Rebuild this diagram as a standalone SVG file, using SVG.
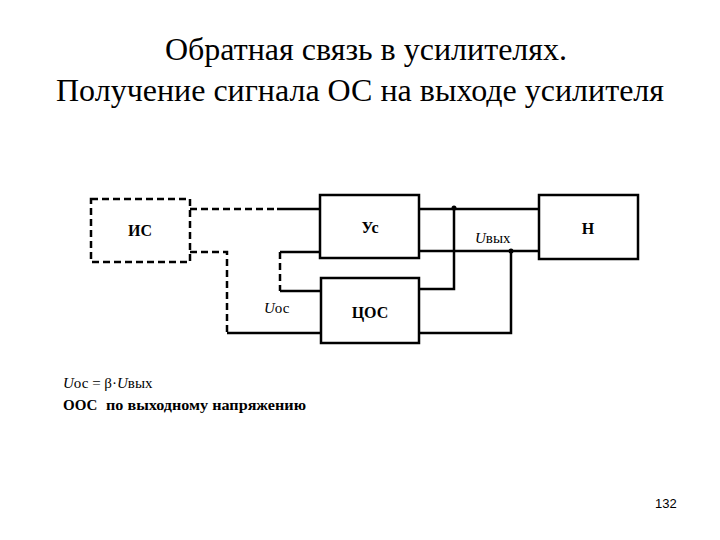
<svg xmlns="http://www.w3.org/2000/svg" width="720" height="540" viewBox="0 0 720 540">
<style>
.box{fill:none;stroke:#000;stroke-width:2.5}
.dbox{fill:none;stroke:#000;stroke-width:2.5;stroke-dasharray:7,4}
.w{fill:none;stroke:#000;stroke-width:2.5}
.dw{fill:none;stroke:#000;stroke-width:2.5;stroke-dasharray:7,4}
.lbl{font-family:"Liberation Serif","Times New Roman","DejaVu Serif",serif;font-size:16px;font-weight:bold;text-anchor:middle}
.sm{font-family:"Liberation Serif","Times New Roman","DejaVu Serif",serif;font-size:15px}
.title{font-family:"Liberation Serif","Times New Roman","DejaVu Serif",serif;font-size:32px;text-anchor:middle}
</style>
<rect width="720" height="540" fill="#fff"/>
<text class="title" x="366" y="60">Обратная связь в усилителях.</text>
<text class="title" x="360" y="101">Получение сигнала ОС на выходе усилителя</text>
<g id="connectors">
<path class="dw" d="M190,209 H277"/>
<path class="w" d="M277,209 H320"/>
<path class="dw" d="M190,252 H227 V333"/>
<path class="w" d="M227,333 H321"/>
<path class="w" d="M280,252 H320"/>
<path class="dw" d="M280,252 V291"/>
<path class="w" d="M280,291 H321"/>
<path class="w" d="M419,209 H539"/>
<path class="w" d="M419,251 H539"/>
<path class="w" d="M454,209 V289 H419"/>
<path class="w" d="M511,251 V333 H419"/>
<circle cx="454" cy="208" r="2.5"/>
<circle cx="511" cy="251" r="2.5"/>
</g>
<g id="node-is">
<rect class="dbox" x="91" y="199" width="99" height="63"/>
<text class="lbl" x="140" y="236">ИС</text>
</g>
<g id="node-us">
<rect class="box" x="320" y="195" width="99" height="63"/>
<text class="lbl" x="370" y="233">Ус</text>
</g>
<g id="node-n">
<rect class="box" x="539" y="195" width="99" height="64"/>
<text class="lbl" x="588" y="234">Н</text>
</g>
<g id="node-tsos">
<rect class="box" x="321" y="278" width="98" height="65"/>
<text class="lbl" x="370" y="318">ЦОС</text>
</g>
<text class="sm" x="264" y="313"><tspan font-style="italic">U</tspan>ос</text>
<text class="sm" x="475" y="243"><tspan font-style="italic">U</tspan>вых</text>
<text class="sm" x="63" y="388"><tspan font-style="italic">U</tspan>ос = β·<tspan font-style="italic">U</tspan>вых</text>
<text class="sm" x="63" y="410" font-weight="bold" font-size="16">ООС</text>
<text class="sm" x="106" y="410" font-weight="bold" textLength="200" lengthAdjust="spacingAndGlyphs">по выходному напряжению</text>
<text x="655" y="508" font-family="Liberation Sans, sans-serif" font-size="13">132</text>
</svg>
